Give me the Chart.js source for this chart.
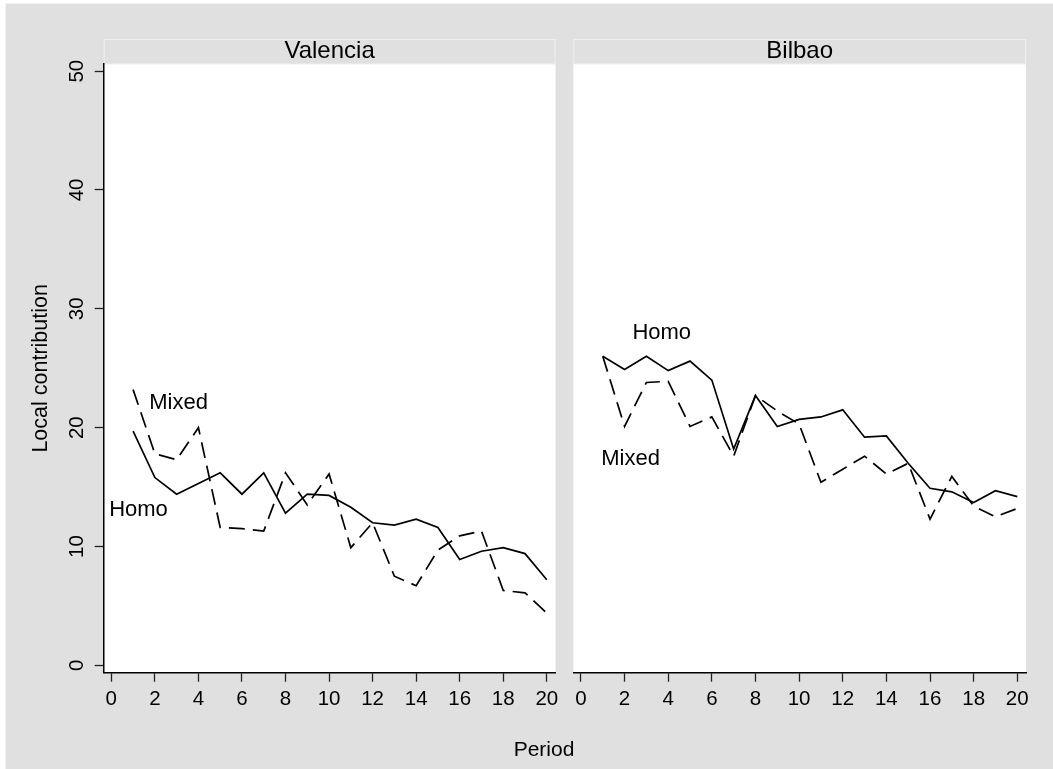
<!DOCTYPE html>
<html>
<head>
<meta charset="utf-8">
<script src="https://cdn.jsdelivr.net/npm/chart.js@4.4.1/dist/chart.umd.min.js"></script>
<style>
  body { margin: 0; background: #fff; font-family: "Liberation Sans", Arial, Helvetica, sans-serif; }
  #frame { position: absolute; left: 5px; top: 3px; width: 1047px; height: 765px;
           background: #e0e0e0; border-left: 1px solid #eef3f3; border-top: 1px solid #eef3f3; }
  canvas { position: absolute; top: 0; }
  #left { left: 0; }
  #right { left: 560px; }
  #xtitle { position: absolute; left: 544px; top: 748px; transform: translate(-50%, -50%);
            font-size: 21px; line-height: 1; color: #000; white-space: nowrap; }
</style>
</head>
<body>
<div id="frame"></div>
<canvas id="left" width="560" height="769"></canvas>
<canvas id="right" width="493" height="769"></canvas>
<div id="xtitle">Period</div>
<script>
// data
const periods = [1, 2, 3, 4, 5, 6, 7, 8, 9, 10, 11, 12, 13, 14, 15, 16, 17, 18, 19, 20];
const valenciaHomo  = [19.7, 15.8, 14.4, 15.3, 16.2, 14.4, 16.2, 12.8, 14.4, 14.3, 13.3, 12.0, 11.8, 12.3, 11.6, 8.9, 9.6, 9.9, 9.4, 7.2];
const valenciaMixed = [23.2, 17.8, 17.3, 20.0, 11.6, 11.5, 11.3, 16.2, 13.5, 16.1, 9.9, 12.0, 7.5, 6.7, 9.7, 10.9, 11.3, 6.3, 6.1, 4.4];
const bilbaoHomo    = [26.0, 24.9, 26.0, 24.8, 25.6, 24.0, 18.2, 22.7, 20.1, 20.7, 20.9, 21.5, 19.2, 19.3, 17.0, 14.9, 14.6, 13.7, 14.7, 14.2];
const bilbaoMixed   = [26.0, 20.1, 23.8, 23.9, 20.1, 20.9, 17.6, 22.7, 21.4, 20.3, 15.4, 16.5, 17.6, 16.1, 17.0, 12.3, 15.9, 13.4, 12.5, 13.2];

const xTicks = [0, 2, 4, 6, 8, 10, 12, 14, 16, 18, 20];
const yTicks = [0, 10, 20, 30, 40, 50];

// line labels, in data units
const valenciaNotes = [['Mixed', 1.74, 22.1], ['Homo', -0.1, 13.1]];
const bilbaoNotes   = [['Homo', 2.36, 28.0], ['Mixed', 0.93, 17.4]];

const FONT = '"Liberation Sans", Arial, Helvetica, sans-serif';

const toPoints = (ys) => periods.map((p, i) => ({x: p, y: ys[i]}));

// white plot region, gray header strip with panel name, text labels on the lines
const panelPlugin = {
  id: 'panel',
  beforeDraw(chart, args, opts) {
    const {ctx, chartArea: a} = chart;
    ctx.save();
    ctx.fillStyle = '#fff';
    ctx.fillRect(a.left, a.top, a.right - a.left, a.bottom - a.top);
    ctx.fillStyle = '#e0e0e0';
    ctx.fillRect(a.left, 39, a.right - a.left, a.top - 39);
    ctx.strokeStyle = '#eaf2f2';
    ctx.lineWidth = 1;
    ctx.strokeRect(a.left + 0.5, 39.5, a.right - a.left - 1, a.top - 39.5);
    ctx.fillStyle = '#000';
    ctx.font = '24px ' + FONT;
    ctx.textAlign = 'center';
    ctx.textBaseline = 'alphabetic';
    ctx.fillText(opts.title, (a.left + a.right) / 2, 58);
    ctx.restore();
  },
  afterDatasetsDraw(chart, args, opts) {
    const {ctx, scales} = chart;
    ctx.save();
    ctx.fillStyle = '#000';
    ctx.font = '22px ' + FONT;
    ctx.textAlign = 'left';
    ctx.textBaseline = 'middle';
    opts.notes.forEach(([t, x, y]) => {
      ctx.fillText(t, scales.x.getPixelForValue(x), scales.y.getPixelForValue(y));
    });
    ctx.restore();
  }
};

function makeChart(id, title, homo, mixed, notes, withY, padding) {
  return new Chart(document.getElementById(id), {
    type: 'line',
    data: {
      datasets: [
        { label: 'Homo', data: toPoints(homo), borderColor: '#000', borderWidth: 1.7,
          pointRadius: 0, tension: 0, fill: false },
        { label: 'Mixed', data: toPoints(mixed), borderColor: '#000', borderWidth: 1.7,
          borderDash: [16, 8], pointRadius: 0, tension: 0, fill: false }
      ]
    },
    options: {
      responsive: false,
      animation: false,
      events: [],
      layout: { padding: padding },
      plugins: {
        legend: { display: false },
        tooltip: { enabled: false },
        panel: { title: title, notes: notes }
      },
      scales: {
        x: {
          type: 'linear', min: -0.35, max: 20.4,
          afterBuildTicks: s => { s.ticks = xTicks.map(v => ({value: v})); },
          afterFit: s => { s.height = 96.3; s.paddingLeft = 0; s.paddingRight = 0; },
          grid: { drawOnChartArea: false, tickLength: 9, tickColor: '#222', tickWidth: 1.3 },
          border: { color: '#000', width: 1.5 },
          ticks: { padding: 5, color: '#000', maxRotation: 0, autoSkip: false,
                   font: { size: 20.5, family: FONT } }
        },
        y: {
          type: 'linear', min: -0.62, max: 50.6,
          display: withY,
          afterBuildTicks: s => { s.ticks = yTicks.map(v => ({value: v})); },
          afterFit: s => { if (withY) s.width = 103.7; s.paddingTop = 0; s.paddingBottom = 0; },
          grid: { drawOnChartArea: false, tickLength: 9, tickColor: '#222', tickWidth: 1.3 },
          border: { color: '#000', width: 1.5 },
          ticks: { minRotation: 90, maxRotation: 90, crossAlign: 'center', padding: 5.6,
                   color: '#000', autoSkip: false, font: { size: 20.5, family: FONT } },
          title: { display: true, text: 'Local contribution', color: '#000',
                   font: { size: 21.5, family: FONT }, padding: { top: 28, bottom: 0 } }
        }
      }
    },
    plugins: [panelPlugin]
  });
}

makeChart('left', 'Valencia', valenciaHomo, valenciaMixed, valenciaNotes, true,
          { left: 0, right: 4.5, top: 64, bottom: 0 });
makeChart('right', 'Bilbao', bilbaoHomo, bilbaoMixed, bilbaoNotes, false,
          { left: 13.3, right: 27, top: 64, bottom: 0 });
</script>
</body>
</html>
